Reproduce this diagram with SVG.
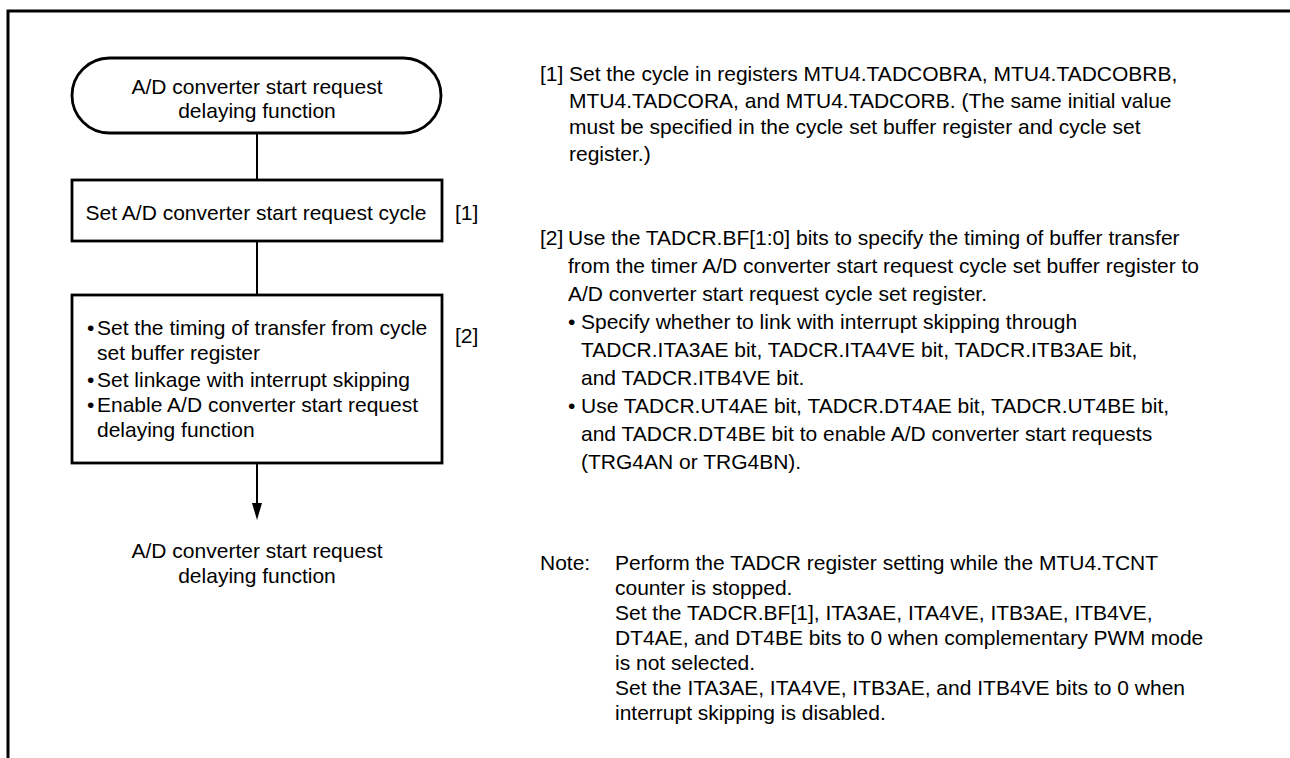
<svg xmlns="http://www.w3.org/2000/svg" width="1290" height="758" viewBox="0 0 1290 758">
<style>
text{font-family:"Liberation Sans",Arial,sans-serif;font-size:21px;fill:#000}
.c{text-anchor:middle}
.box{fill:#fff;stroke:#000;stroke-width:2.8}
.ln{stroke:#000;stroke-width:2;fill:none}
.frame{stroke:#000;stroke-width:3;fill:none}
</style>
<path class="frame" d="M8,758 L8,11 L1290,11"/>
<g id="connectors">
<line class="ln" x1="257" y1="133" x2="257" y2="180"/>
<line class="ln" x1="257" y1="241" x2="257" y2="295"/>
<line class="ln" x1="257" y1="463" x2="257" y2="504"/>
<path d="M252,503 L262,503 L257,520 Z" fill="#000"/>
</g>
<g id="start">
<rect class="box" x="72" y="58" width="369" height="75" rx="37.5" ry="37.5"/>
<text class="c" x="257" y="94">A/D converter start request</text>
<text class="c" x="257" y="118">delaying function</text>
</g>
<g id="step1">
<rect class="box" x="72" y="180" width="370" height="61"/>
<text class="c" x="256" y="220">Set A/D converter start request cycle</text>
<text x="455" y="220">[1]</text>
</g>
<g id="step2">
<rect class="box" x="72" y="295" width="370" height="168"/>
<text x="87" y="335">•</text><text x="97" y="335">Set the timing of transfer from cycle</text>
<text x="97" y="360">set buffer register</text>
<text x="87" y="387">•</text><text x="97" y="387">Set linkage with interrupt skipping</text>
<text x="87" y="412">•</text><text x="97" y="412">Enable A/D converter start request</text>
<text x="97" y="437">delaying function</text>
<text x="455" y="343">[2]</text>
</g>
<g id="end">
<text class="c" x="257" y="558">A/D converter start request</text>
<text class="c" x="257" y="583">delaying function</text>
</g>
<g id="notes">
<text x="540" y="81">[1]</text>
<text x="569" y="81">Set the cycle in registers MTU4.TADCOBRA, MTU4.TADCOBRB,</text>
<text x="569" y="107.5">MTU4.TADCORA, and MTU4.TADCORB. (The same initial value</text>
<text x="569" y="134">must be specified in the cycle set buffer register and cycle set</text>
<text x="569" y="160.5">register.)</text>
<text x="540" y="245">[2]</text>
<text x="568" y="245">Use the TADCR.BF[1:0] bits to specify the timing of buffer transfer</text>
<text x="568" y="273">from the timer A/D converter start request cycle set buffer register to</text>
<text x="568" y="301">A/D converter start request cycle set register.</text>
<text x="568" y="329">•</text><text x="581" y="329">Specify whether to link with interrupt skipping through</text>
<text x="581" y="357">TADCR.ITA3AE bit, TADCR.ITA4VE bit, TADCR.ITB3AE bit,</text>
<text x="581" y="385">and TADCR.ITB4VE bit.</text>
<text x="568" y="413">•</text><text x="581" y="413">Use TADCR.UT4AE bit, TADCR.DT4AE bit, TADCR.UT4BE bit,</text>
<text x="581" y="441">and TADCR.DT4BE bit to enable A/D converter start requests</text>
<text x="581" y="469">(TRG4AN or TRG4BN).</text>
<text x="540" y="570">Note:</text>
<text x="615" y="570">Perform the TADCR register setting while the MTU4.TCNT</text>
<text x="615" y="595">counter is stopped.</text>
<text x="615" y="620">Set the TADCR.BF[1], ITA3AE, ITA4VE, ITB3AE, ITB4VE,</text>
<text x="615" y="645">DT4AE, and DT4BE bits to 0 when complementary PWM mode</text>
<text x="615" y="670">is not selected.</text>
<text x="615" y="695">Set the ITA3AE, ITA4VE, ITB3AE, and ITB4VE bits to 0 when</text>
<text x="615" y="720">interrupt skipping is disabled.</text>
</g>
</svg>
